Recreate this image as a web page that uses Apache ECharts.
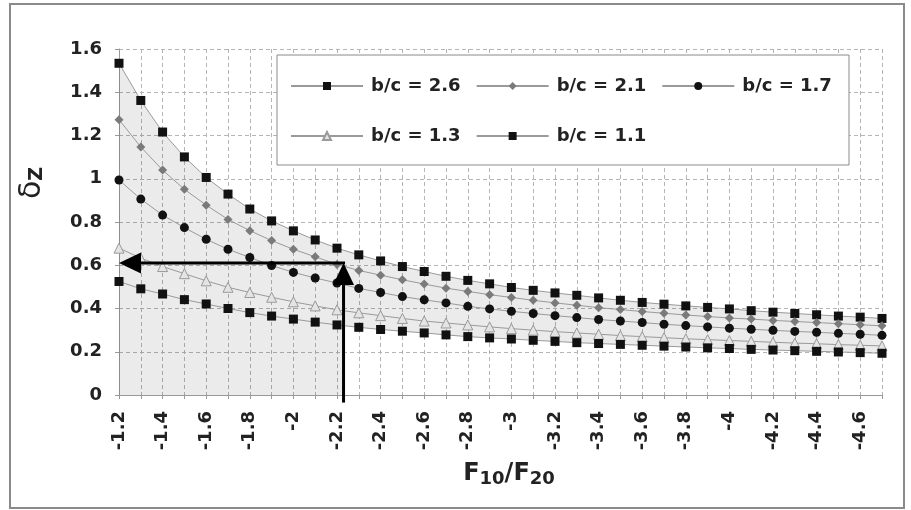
<!DOCTYPE html>
<html>
<head>
<meta charset="utf-8">
<script src="https://cdn.jsdelivr.net/npm/echarts@6/dist/echarts.min.js"></script>
<style>
  html, body { margin: 0; padding: 0; background: #fff; }
  #chart { width: 911px; height: 510px; }
</style>
</head>
<body>
<div id="chart"></div>
<script>
// F10/F20 ratio, one point per 0.1 step
var ratios = [-1.2, -1.3, -1.4, -1.5, -1.6, -1.7, -1.8, -1.9, -2.0, -2.1, -2.2, -2.3,
  -2.4, -2.5, -2.6, -2.7, -2.8, -2.9, -3.0, -3.1, -3.2, -3.3, -3.4, -3.5,
  -3.6, -3.7, -3.8, -3.9, -4.0, -4.1, -4.2, -4.3, -4.4, -4.5, -4.6, -4.7];

var bc26 = [1.534, 1.362, 1.216, 1.101, 1.006, 0.929, 0.860, 0.805, 0.759, 0.717, 0.679, 0.648,
  0.620, 0.594, 0.571, 0.549, 0.530, 0.514, 0.497, 0.484, 0.472, 0.461, 0.449, 0.438,
  0.428, 0.420, 0.412, 0.405, 0.398, 0.390, 0.383, 0.377, 0.371, 0.365, 0.360, 0.354];
var bc21 = [1.273, 1.147, 1.040, 0.951, 0.878, 0.812, 0.760, 0.714, 0.674, 0.639, 0.604, 0.576,
  0.554, 0.533, 0.513, 0.494, 0.479, 0.464, 0.451, 0.438, 0.426, 0.415, 0.404, 0.395,
  0.386, 0.378, 0.370, 0.363, 0.356, 0.351, 0.345, 0.340, 0.335, 0.330, 0.325, 0.320];
var bc17 = [0.994, 0.906, 0.832, 0.774, 0.720, 0.674, 0.636, 0.599, 0.567, 0.541, 0.518, 0.493,
  0.474, 0.455, 0.440, 0.426, 0.410, 0.398, 0.387, 0.377, 0.367, 0.358, 0.349, 0.342,
  0.335, 0.327, 0.321, 0.315, 0.309, 0.304, 0.299, 0.294, 0.290, 0.285, 0.281, 0.276];
var bc13 = [0.679, 0.633, 0.594, 0.561, 0.528, 0.498, 0.474, 0.452, 0.431, 0.412, 0.394, 0.380,
  0.367, 0.354, 0.342, 0.333, 0.324, 0.315, 0.307, 0.300, 0.293, 0.287, 0.281, 0.275,
  0.270, 0.265, 0.260, 0.256, 0.252, 0.248, 0.244, 0.240, 0.237, 0.233, 0.230, 0.227];
var bc11 = [0.525, 0.491, 0.467, 0.441, 0.421, 0.400, 0.381, 0.365, 0.351, 0.337, 0.324, 0.313,
  0.303, 0.295, 0.287, 0.278, 0.270, 0.264, 0.259, 0.253, 0.248, 0.242, 0.238, 0.234,
  0.230, 0.226, 0.222, 0.218, 0.215, 0.211, 0.208, 0.205, 0.202, 0.199, 0.196, 0.193];

var names = ['b/c = 2.6', 'b/c = 2.1', 'b/c = 1.7', 'b/c = 1.3', 'b/c = 1.1'];

// read-off arrow: from F10/F20 = -2.23 up to delta = 0.61, then left
var arrowX = -2.23;
var arrowY = 0.61;
var arrowFoot = -0.035; // arrow shaft starts a little under the axis
var fillUntil = 10;     // index of -2.2, last point left of the arrow

function pairs(vals) {
  return vals.map(function (v, i) { return [ratios[i], v]; });
}

var FONT = 'DejaVu Sans';
var shade = 'rgba(0,0,0,0.08)';
var lineGray = '#9a9a9a';

var chart = echarts.init(document.getElementById('chart'));

function mk(name, vals, symbol, size, color, border) {
  return {
    name: name,
    type: 'line',
    data: pairs(vals),
    symbol: symbol,
    symbolSize: size,
    showAllSymbol: true,
    lineStyle: { color: lineGray, width: 1 },
    itemStyle: { color: color, borderColor: border || color, borderWidth: border ? 1 : 0 },
    z: 5
  };
}

// grey band between lowest and highest curve, plus the part under the
// lowest curve left of the arrow
function renderShade(params, api) {
  var band = [];
  ratios.forEach(function (r, i) { band.push(api.coord([r, bc26[i]])); });
  for (var i = ratios.length - 1; i >= 0; i--) band.push(api.coord([ratios[i], bc11[i]]));

  var k = fillUntil;
  var t = (arrowX - ratios[k]) / (ratios[k + 1] - ratios[k]);
  var yEdge = bc11[k] + t * (bc11[k + 1] - bc11[k]);
  var left = [];
  for (var j = 0; j <= k; j++) left.push(api.coord([ratios[j], bc11[j]]));
  left.push(api.coord([arrowX, yEdge]), api.coord([arrowX, 0]), api.coord([ratios[0], 0]));

  return {
    type: 'group',
    children: [
      { type: 'polygon', shape: { points: band }, style: { fill: shade } },
      { type: 'polygon', shape: { points: left }, style: { fill: shade } }
    ]
  };
}

function renderArrows(params, api) {
  var foot = api.coord([arrowX, arrowFoot]);
  var corner = api.coord([arrowX, arrowY]);
  var tip = api.coord([ratios[0], arrowY]);
  var hw = 10.5, hl = 22;
  return {
    type: 'group',
    children: [
      { type: 'line', shape: { x1: foot[0], y1: foot[1], x2: corner[0], y2: corner[1] + hl - 2 },
        style: { stroke: '#000', lineWidth: 3 } },
      { type: 'polygon', shape: { points: [[corner[0], corner[1]], [corner[0] - hw, corner[1] + hl], [corner[0] + hw, corner[1] + hl]] },
        style: { fill: '#000' } },
      { type: 'line', shape: { x1: corner[0] + 1.5, y1: corner[1], x2: tip[0] + hl - 2, y2: tip[1] },
        style: { stroke: '#000', lineWidth: 3 } },
      { type: 'polygon', shape: { points: [[tip[0], tip[1]], [tip[0] + hl, tip[1] - hw], [tip[0] + hl, tip[1] + hw]] },
        style: { fill: '#000' } }
    ]
  };
}

var legendText = { fontFamily: FONT, fontWeight: 'bold', fontSize: 18, color: '#222', padding: [0, 0, 0, 3] };

var option = {
  backgroundColor: '#fff',
  animation: false,
  grid: { left: 115, right: 29, top: 49, bottom: 115 },
  graphic: [
    { type: 'rect', shape: { x: 10, y: 4, width: 894, height: 504 },
      style: { fill: 'none', stroke: '#8a8a8a', lineWidth: 2 }, z: 0 },
    { type: 'rect', shape: { x: 277, y: 55, width: 572, height: 110 },
      style: { fill: '#fff', stroke: '#8a8a8a', lineWidth: 1 }, z: 3 }
  ],
  legend: [
    { data: names.slice(0, 3), left: 290, top: 77, padding: 0, itemWidth: 72, itemHeight: 10, itemGap: 15,
      textStyle: legendText, z: 5 },
    { data: names.slice(3), left: 290, top: 127, padding: 0, itemWidth: 72, itemHeight: 10, itemGap: 15,
      textStyle: legendText, z: 5 }
  ],
  xAxis: {
    type: 'value',
    inverse: true,
    min: -4.7,
    max: -1.2,
    interval: 0.1,
    name: '{f|F}{s|10}{f|/F}{s|20}',
    nameLocation: 'middle',
    nameGap: 58,
    nameTextStyle: {
      padding: [0, 0, 0, 17],
      rich: {
        f: { fontFamily: FONT, fontWeight: 'bold', fontSize: 24, color: '#222', verticalAlign: 'top', lineHeight: 26 },
        s: { fontFamily: FONT, fontWeight: 'bold', fontSize: 18, color: '#222', verticalAlign: 'bottom', lineHeight: 20, padding: [12, 0, 0, 0] }
      }
    },
    axisLine: { onZero: false, lineStyle: { color: '#999', width: 1 } },
    axisTick: { show: true, length: 4, lineStyle: { color: '#999' } },
    axisLabel: {
      rotate: 90,
      margin: 16,
      fontFamily: FONT, fontWeight: 'bold', fontSize: 18, color: '#222',
      formatter: function (v) {
        var t = Math.round(v * 10);
        return (t % 2 === 0) ? String(t / 10) : '';
      }
    },
    splitLine: { show: true, lineStyle: { color: '#b5b5b5', type: [4, 3], width: 1 } }
  },
  yAxis: {
    type: 'value',
    min: 0,
    max: 1.6,
    interval: 0.2,
    name: '{d|δ}{z|Z}',
    nameLocation: 'middle',
    nameGap: 72,
    nameTextStyle: {
      padding: [0, 0, 0, 78],
      rich: {
        d: { fontFamily: FONT, fontSize: 30, color: '#222', verticalAlign: 'top', lineHeight: 30 },
        z: { fontFamily: FONT, fontWeight: 'bold', fontSize: 19, color: '#222', verticalAlign: 'bottom', lineHeight: 20, padding: [20, 0, 0, 0] }
      }
    },
    axisLine: { show: true, lineStyle: { color: '#999', width: 1 } },
    axisTick: { show: true, length: 4, lineStyle: { color: '#999' } },
    axisLabel: { margin: 17, fontFamily: FONT, fontWeight: 'bold', fontSize: 18, color: '#222' },
    splitLine: { show: true, lineStyle: { color: '#b5b5b5', type: [4, 3], width: 1 } }
  },
  series: [
    { name: 'shade', type: 'custom', renderItem: renderShade, data: [[ratios[0], 0]],
      silent: true, z: 1 },
    mk(names[0], bc26, 'rect', 9, '#111'),
    mk(names[1], bc21, 'diamond', 9, '#7a7a7a'),
    mk(names[2], bc17, 'circle', 9, '#111'),
    mk(names[3], bc13, 'triangle', 10, '#e4e4e4', '#9a9a9a'),
    mk(names[4], bc11, 'rect', 9, '#111'),
    { name: 'arrows', type: 'custom', renderItem: renderArrows, data: [[arrowX, arrowY]],
      clip: false, silent: true, z: 6 }
  ]
};

chart.setOption(option);
</script>
</body>
</html>
